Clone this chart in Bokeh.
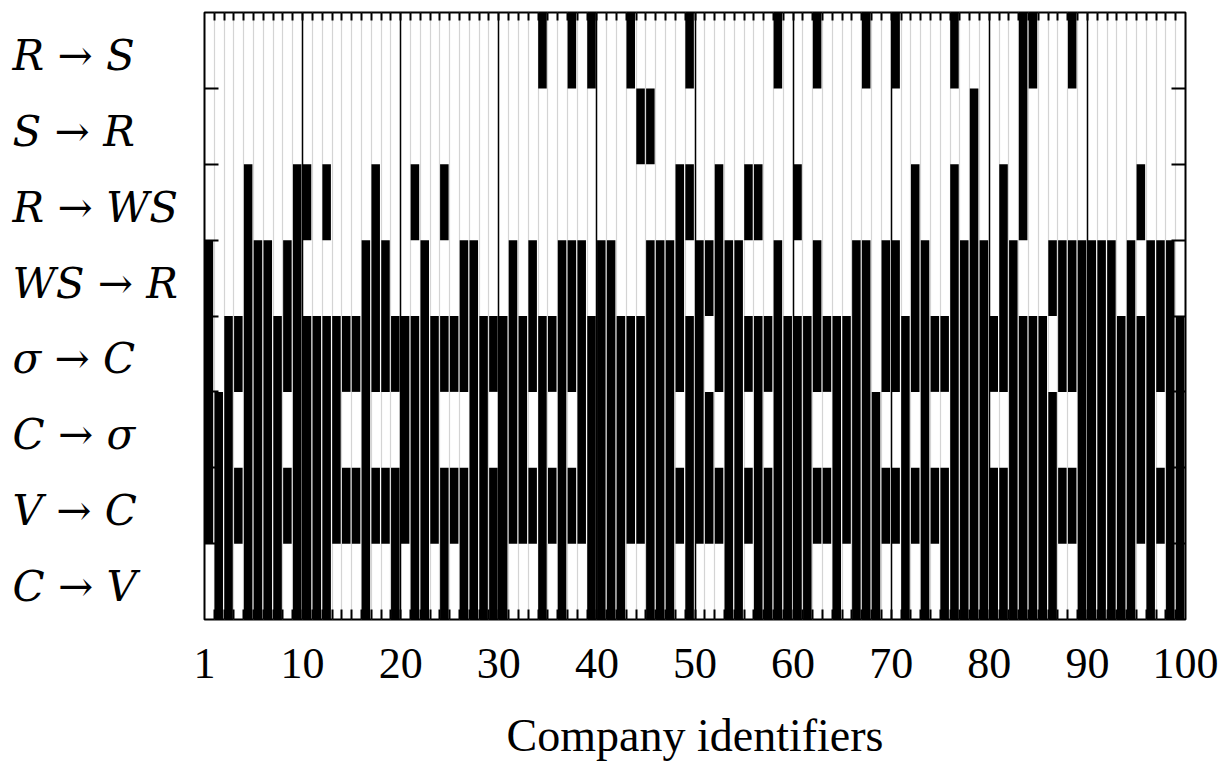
from bokeh.plotting import figure
from bokeh.layouts import row
from bokeh.models import ColumnDataSource, FixedTicker, LinearAxis, Range1d
from bokeh.embed import file_html
from bokeh.resources import INLINE
from bokeh.core.properties import value

# ---------------- data ----------------
# one string per transition row, companies 1..100 (grouped by tens), 1 = black cell
row_labels = ["R → S", "S → R", "R → WS", "WS → R", "σ → C", "C → σ", "V → C", "C → V"]

r_to_s     = "0000000000 0000000000 0000000000 0000100101 0001000001 0000000010 0010000100 1000001000 0001100010 0000000000"
s_to_r     = "0000000000 0000000000 0000000000 0000000000 0000110000 0000000000 0000000000 0000000010 0001000000 0000000000"
r_to_ws    = "0000100001 1010000100 0100100000 0000000000 0000000011 0010011000 1000000000 0010001010 0101000000 0000010000"
ws_to_r    = "1000111011 0000001110 0010001100 0101001110 1100011110 1111100010 0010001101 1011001111 0110001111 1110101110"
sigma_to_c = "1011111111 1111111111 1111111111 1111111111 1111111111 1011111111 1111111101 1111111111 1111110111 1111111111"
c_to_sigma = "1110111101 1111001000 1111000110 1110101011 1111111101 1101101011 1100111110 0101001111 0011111001 1111111011"
v_to_c     = "1111111111 1111111111 1111111111 1111111111 1111111111 1111111111 1111111111 1111111111 1111111111 1111111111"
c_to_v     = "0110111101 1110001001 0110101111 1000101001 1110011101 0001101111 1100101110 0101011111 1111111001 1111101011"

rows = [r_to_s, s_to_r, r_to_ws, ws_to_r, sigma_to_c, c_to_sigma, v_to_c, c_to_v]

tick_values = [0, 10, 20, 30, 40, 50, 60, 70, 80, 90, 100]
tick_labels = ["1", "10", "20", "30", "40", "50", "60", "70", "80", "90", "100"]
x_title = "Company identifiers"

# ---------------- build cells ----------------
grid = [r.replace(" ", "") for r in rows]
n_rows = len(grid)
n_comp = len(grid[0])

left, right, bottom, top = [], [], [], []
for c in range(n_comp):
    r = 0
    while r < n_rows:
        if grid[r][c] == "1":
            r0 = r
            while r < n_rows and grid[r][c] == "1":
                r += 1
            comp = c + 1
            left.append(comp - 0.985)
            right.append(comp - 0.115)
            top.append(n_rows - r0)
            bottom.append(n_rows - r)
        else:
            r += 1

bars = ColumnDataSource(dict(left=left, right=right, top=top, bottom=bottom))

FONT = "Liberation Serif"
LABEL_FONT = "DejaVu Serif"
FRAME_W, FRAME_H = 981, 607
TOP = 12
BOTTOM = 155
LEFT_PANEL = 184     # width of the label panel
LEFT_BORDER = 20     # main canvas border left of the frame (room for the "1" label)
TOTAL_H = TOP + FRAME_H + BOTTOM

# ---------------- main plot ----------------
p = figure(frame_width=FRAME_W, frame_height=FRAME_H,
           x_range=Range1d(0, n_comp), y_range=Range1d(0, n_rows),
           output_backend="svg", toolbar_location=None,
           min_border_left=LEFT_BORDER, min_border_right=35,
           min_border_top=TOP, min_border_bottom=BOTTOM)

p.background_fill_color = "white"
p.border_fill_color = "white"
p.outline_line_color = "black"
p.outline_line_width = 2

p.quad(left="left", right="right", top="top", bottom="bottom", source=bars,
       fill_color="black", line_color=None)

xt = FixedTicker(ticks=tick_values, minor_ticks=list(range(1, n_comp)))
p.xaxis.ticker = xt
p.xaxis.major_label_overrides = {v: l for v, l in zip(tick_values, tick_labels)}
p.xaxis.major_tick_in = 0
p.xaxis.major_tick_out = 0
p.xaxis.minor_tick_in = 10
p.xaxis.minor_tick_out = 0
p.xaxis.minor_tick_line_width = 2
p.xaxis.minor_tick_line_color = "black"
p.xaxis.axis_line_color = None
p.xaxis.major_label_text_font = FONT
p.xaxis.major_label_text_font_size = "44px"
p.xaxis.major_label_text_color = "black"
p.xaxis.major_label_standoff = 29
p.xaxis.axis_label = x_title
p.xaxis.axis_label_text_font = FONT
p.xaxis.axis_label_text_font_size = "46px"
p.xaxis.axis_label_text_font_style = "normal"
p.xaxis.axis_label_text_color = "black"
p.xaxis.axis_label_standoff = 29

p.xgrid.ticker = xt
p.xgrid.grid_line_color = "black"
p.xgrid.grid_line_width = 1.5
p.xgrid.minor_grid_line_color = "#d4d4d4"
p.xgrid.minor_grid_line_width = 1.2
p.ygrid.visible = False

# top: small ticks at every company boundary, no labels
xt_top = FixedTicker(ticks=[], minor_ticks=list(range(1, n_comp)))
top_axis = LinearAxis(ticker=xt_top,
                      major_tick_in=0, major_tick_out=0,
                      minor_tick_in=8, minor_tick_out=0,
                      minor_tick_line_width=2, minor_tick_line_color="black",
                      axis_line_color=None, major_label_standoff=0)
p.add_layout(top_axis, "above")

# row-boundary ticks on both sides
yt = FixedTicker(ticks=[], minor_ticks=list(range(1, n_rows)))
p.yaxis.ticker = yt
p.yaxis.major_tick_in = 0
p.yaxis.major_tick_out = 0
p.yaxis.minor_tick_in = 14
p.yaxis.minor_tick_out = 0
p.yaxis.minor_tick_line_width = 2
p.yaxis.minor_tick_line_color = "black"
p.yaxis.axis_line_color = None
p.yaxis.major_label_standoff = 0

right_axis = LinearAxis(ticker=yt,
                        major_tick_in=0, major_tick_out=0,
                        minor_tick_in=14, minor_tick_out=0,
                        minor_tick_line_width=2, minor_tick_line_color="black",
                        axis_line_color=None, major_label_standoff=0)
p.add_layout(right_axis, "right")

# ---------------- row labels (separate full-height panel on the left) ----------------
row_px = FRAME_H / n_rows
lf = figure(frame_width=LEFT_PANEL, frame_height=TOTAL_H,
            x_range=Range1d(0, 1),
            y_range=Range1d(-BOTTOM / row_px, n_rows + TOP / row_px),
            output_backend="svg", toolbar_location=None,
            min_border_left=0, min_border_right=0, min_border_top=0, min_border_bottom=0,
            x_axis_location=None, y_axis_location=None)
lf.outline_line_color = None
lf.xgrid.visible = False
lf.ygrid.visible = False
lf.background_fill_color = "white"
lf.border_fill_color = "white"

lab_src = ColumnDataSource(dict(
    x=[0] * n_rows,
    y=[n_rows - i - 0.5 for i in range(n_rows)],
    label=row_labels))
lf.text(x="x", y="y", text="label", source=lab_src,
        x_offset=12, y_offset=-7,
        text_align="left", text_baseline="middle",
        text_font=value(LABEL_FONT), text_font_style="italic",
        text_font_size="42px", text_color="black")

layout = row(lf, p)

html = file_html(layout, INLINE)
html = html.replace("</head>", "<style>html, body { overflow: hidden; }</style></head>", 1)
open("out.html", "w").write(html)
